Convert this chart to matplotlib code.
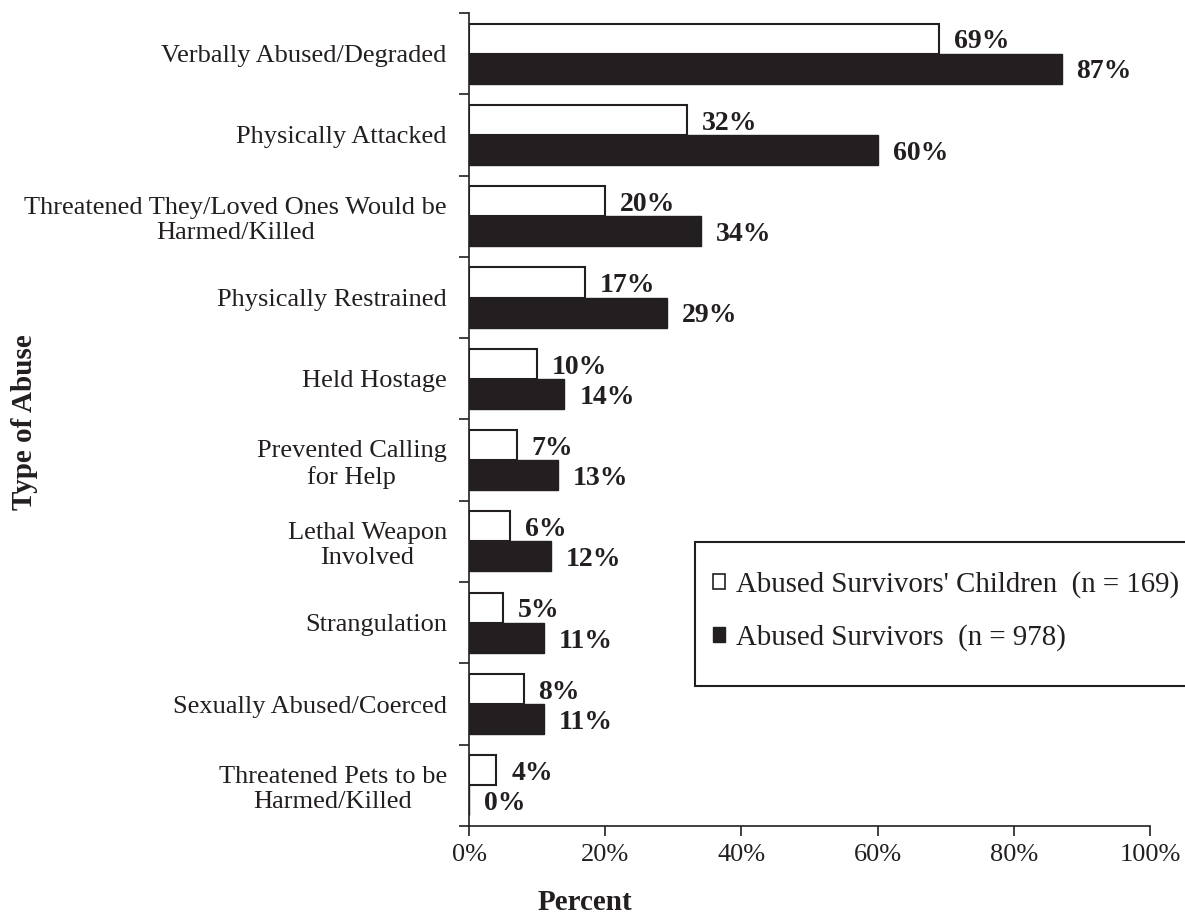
import matplotlib
matplotlib.use("Agg")
import matplotlib.pyplot as plt
import numpy as np
from matplotlib.patches import Patch, Rectangle

categories = ["Verbally Abused/Degraded", "Physically Attacked",
              "Threatened They/Loved Ones Would be\nHarmed/Killed",
              "Physically Restrained", "Held Hostage",
              "Prevented Calling\nfor Help", "Lethal Weapon\nInvolved",
              "Strangulation", "Sexually Abused/Coerced",
              "Threatened Pets to be\nHarmed/Killed"]
children = [69, 32, 20, 17, 10, 7, 6, 5, 8, 4]
survivors = [87, 60, 34, 29, 14, 13, 12, 11, 11, 0]
xticks = [0, 20, 40, 60, 80, 100]
legend_labels = ["Abused Survivors' Children  (n = 169)", "Abused Survivors  (n = 978)"]

dark = "#231f20"
plt.rcParams['font.family'] = ['Liberation Serif', 'DejaVu Serif']
plt.rcParams['font.size'] = 19
plt.rcParams['text.color'] = dark
plt.rcParams['xtick.color'] = dark
plt.rcParams['ytick.color'] = dark

W, H = 1185, 917
fig = plt.figure(figsize=(W / 100, H / 100), dpi=100)
ax = fig.add_axes([0.3958, 0.0993, 0.5747, 0.8865])

n = len(categories)
y = np.arange(n)
h = 0.37
ax.barh(y - h/2, children, height=h, color="white", edgecolor=dark, linewidth=1.5)
ax.barh(y + h/2, survivors, height=h, color=dark, edgecolor=dark, linewidth=1.0)

for yi, c, s in zip(y, children, survivors):
    ax.text(c + 2.2, yi - h/2 + 0.04, f"{c}%", va="center", ha="left", fontweight="bold", fontsize=20)
    ax.text(s + 2.2, yi + h/2 + 0.04, f"{s}%", va="center", ha="left", fontweight="bold", fontsize=20)

ax.set_ylim(n - 0.5, -0.5)
ax.set_xlim(0, 100)
ax.set_yticks(y)
ax.set_yticklabels(categories, ha="right", multialignment="center")
ax.tick_params(axis="y", which="major", length=0, pad=16)
ax.set_yticks(np.arange(-0.5, n, 1.0), minor=True)
ax.tick_params(axis="y", which="minor", length=7, width=1.2)
ax.set_xticks(xticks)
ax.set_xticklabels([f"{t}%" for t in xticks])
ax.tick_params(axis="x", length=7, width=1.2, pad=6)
for sp in ["top", "right"]:
    ax.spines[sp].set_visible(False)
for sp in ["left", "bottom"]:
    ax.spines[sp].set_linewidth(1.2)
    ax.spines[sp].set_color(dark)

fig.text(585 / W, 1 - 903 / H, "Percent", fontweight="bold", fontsize=21, va="center", ha="center")
fig.text(25 / W, 1 - 422 / H, "Type of Abuse", rotation=90, fontweight="bold", fontsize=21,
         va="center", ha="center")

# legend frame (extends past the right edge as in the reference)
fig.patches.append(Rectangle((695 / W, 1 - 686 / H), 520 / W, 144 / H, transform=fig.transFigure,
                             facecolor="white", edgecolor=dark, linewidth=1.5, zorder=5))
handles = [Patch(facecolor="white", edgecolor=dark, linewidth=1.2),
           Patch(facecolor=dark, edgecolor=dark)]
leg = fig.legend(handles, legend_labels, loc="upper left",
                 bbox_to_anchor=(713 / W, 1 - 571 / H),
                 frameon=False, fontsize=20.8,
                 handlelength=0.4, handleheight=0.4, handletextpad=0.4, labelspacing=0.9,
                 borderpad=0, borderaxespad=0)
leg.set_zorder(6)

fig.savefig("out.png", dpi=100)
